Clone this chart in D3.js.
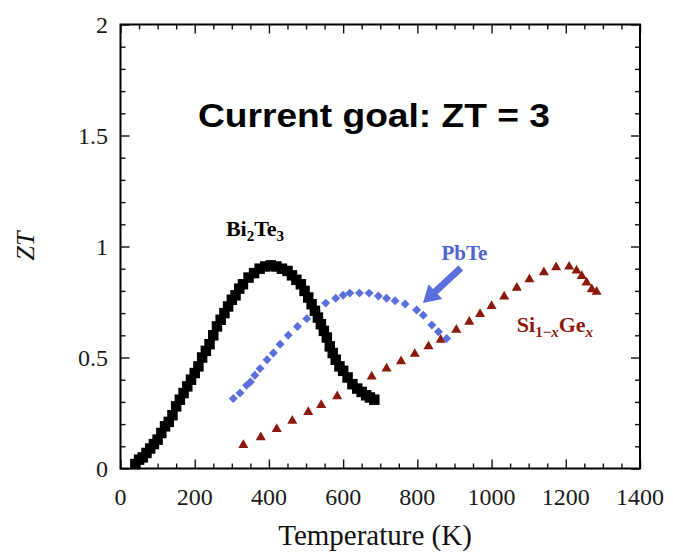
<!DOCTYPE html>
<html>
<head>
<meta charset="utf-8">
<script src="https://cdn.jsdelivr.net/npm/d3@7"></script>
<style>
  html, body { margin: 0; padding: 0; background: #fff; }
  svg { display: block; }
</style>
</head>
<body>
<svg id="chart" width="673" height="554"></svg>
<script>
// ---------- data ----------
const xTicks = [0, 200, 400, 600, 800, 1000, 1200, 1400];
const yTicks = [0, 0.5, 1, 1.5, 2];
const yTickLabels = ["0", "0.5", "1", "1.5", "2"];

const bi2te3T = [40,50,60,70,80,90,100,110,120,130,140,150,160,170,180,190,200,210,220,230,240,250,260,270,280,290,300,310,320,330,345,360,375,390,405,420,435,450,462,474,486,496,506,515,524,532,540,548,556,564,572,580,590,600,612,625,638,650,662,672,684];
const bi2te3ZT = [0.02,0.04,0.05,0.07,0.09,0.11,0.13,0.16,0.19,0.21,0.24,0.28,0.31,0.34,0.37,0.40,0.43,0.46,0.50,0.53,0.56,0.60,0.64,0.67,0.70,0.73,0.76,0.78,0.81,0.83,0.86,0.88,0.90,0.91,0.915,0.91,0.90,0.89,0.87,0.85,0.83,0.80,0.77,0.74,0.71,0.68,0.65,0.62,0.59,0.55,0.52,0.49,0.46,0.44,0.41,0.38,0.36,0.345,0.33,0.32,0.31];

const pbteT = [304,322,340,350,362,376,395,412,430,452,477,502,528,553,580,600,618,644,670,695,717,740,767,798,816,839,857,879];
const pbteZT = [0.315,0.34,0.375,0.39,0.42,0.45,0.49,0.52,0.56,0.60,0.64,0.675,0.71,0.745,0.767,0.78,0.79,0.79,0.79,0.777,0.767,0.756,0.741,0.714,0.69,0.646,0.616,0.586];

const sigeT = [331,378,421,463,506,541,584,630,677,717,756,793,830,863,905,940,969,1000,1034,1068,1102,1141,1174,1209,1229,1243,1256,1270,1283];
const sigeZT = [0.105,0.14,0.178,0.215,0.254,0.286,0.325,0.37,0.414,0.45,0.483,0.516,0.55,0.58,0.625,0.661,0.696,0.732,0.774,0.814,0.852,0.884,0.906,0.909,0.891,0.867,0.837,0.807,0.796];

// annotation anchors in data units
const titlePos = [683, 1.538];
const biLabelPos = [284, 1.047];
const pbLabelPos = [865, 0.939];
const siLabelPos = [1068, 0.616];
const arrowFrom = [917, 0.903];
const arrowTo = [815, 0.745];

// ---------- layout ----------
const svg = d3.select("#chart");
const L = 120.5, R = 640, T = 24.5, B = 468.5;
const x = d3.scaleLinear().domain([0, 1400]).range([L, R]);
const y = d3.scaleLinear().domain([0, 2]).range([B, T]);

const serif = "'Liberation Serif', 'Times New Roman', serif";
const sans = "'Liberation Sans', Arial, sans-serif";

const xMinor = d3.range(0, 1401, 50).filter(v => v % 200 !== 0);
const yMinor = d3.range(0, 21, 1).map(v => v / 10).filter(v => Math.round(v * 10) % 5 !== 0);

function tickAxis(axisFn, scale, vals, size) {
  return axisFn(scale).tickValues(vals).tickSize(size).tickFormat("");
}
const g = svg.append("g");
g.append("g").attr("transform", `translate(0,${B})`).call(tickAxis(d3.axisTop, x, xTicks, 9));
g.append("g").attr("transform", `translate(0,${B})`).call(tickAxis(d3.axisTop, x, xMinor, 5));
g.append("g").attr("transform", `translate(0,${T})`).call(tickAxis(d3.axisBottom, x, xTicks, 9));
g.append("g").attr("transform", `translate(0,${T})`).call(tickAxis(d3.axisBottom, x, xMinor, 5));
g.append("g").attr("transform", `translate(${L},0)`).call(tickAxis(d3.axisRight, y, yTicks, 9));
g.append("g").attr("transform", `translate(${L},0)`).call(tickAxis(d3.axisRight, y, yMinor, 5));
g.append("g").attr("transform", `translate(${R},0)`).call(tickAxis(d3.axisLeft, y, yTicks, 9));
g.append("g").attr("transform", `translate(${R},0)`).call(tickAxis(d3.axisLeft, y, yMinor, 5));
g.selectAll(".domain").remove();
g.selectAll(".tick line").attr("stroke", "#111").attr("stroke-width", 1.4);

svg.append("rect").attr("x", L).attr("y", T).attr("width", R - L).attr("height", B - T)
  .attr("fill", "none").attr("stroke", "#000").attr("stroke-width", 2);

svg.append("g").selectAll("text").data(xTicks).join("text")
  .attr("x", d => x(d)).attr("y", 504.5)
  .attr("text-anchor", "middle")
  .attr("font-family", serif).attr("font-size", 24).attr("fill", "#1a1a1a")
  .text(d => d);
svg.append("g").selectAll("text").data(yTicks).join("text")
  .attr("x", 108).attr("y", d => y(d) + 8)
  .attr("text-anchor", "end")
  .attr("font-family", serif).attr("font-size", 24).attr("fill", "#1a1a1a")
  .text((d, i) => yTickLabels[i]);

svg.append("text").attr("x", 375).attr("y", 545)
  .attr("text-anchor", "middle").attr("font-family", serif).attr("font-size", 29).attr("fill", "#111")
  .text("Temperature (K)");
svg.append("text").attr("transform", "translate(34,246) rotate(-90)")
  .attr("text-anchor", "middle").attr("font-family", serif).attr("font-style", "italic")
  .attr("font-size", 26).attr("fill", "#111")
  .text("ZT");

// ---------- marks ----------
const bi = bi2te3T.map((t, i) => [t, bi2te3ZT[i]]);
const pb = pbteT.map((t, i) => [t, pbteZT[i]]);
const si = sigeT.map((t, i) => [t, sigeZT[i]]);

svg.append("g").selectAll("path").data(si).join("path")
  .attr("d", d3.symbol(d3.symbolTriangle, 44)())
  .attr("transform", d => `translate(${x(d[0])},${y(d[1])})`)
  .attr("fill", "#8b1a0c");

svg.append("g").selectAll("path").data(pb).join("path")
  .attr("d", d3.symbol(d3.symbolSquare, 40)())
  .attr("transform", d => `translate(${x(d[0])},${y(d[1])}) rotate(45)`)
  .attr("fill", "#5b6fdc");

svg.append("g").selectAll("path").data(bi).join("path")
  .attr("d", d3.symbol(d3.symbolSquare, 110)())
  .attr("transform", d => `translate(${x(d[0])},${y(d[1])})`)
  .attr("fill", "#000");

// ---------- annotations ----------
svg.append("text").attr("x", x(titlePos[0])).attr("y", y(titlePos[1]))
  .attr("text-anchor", "middle").attr("font-family", sans).attr("font-weight", "bold")
  .attr("font-size", 34).attr("fill", "#000")
  .attr("textLength", 352).attr("lengthAdjust", "spacingAndGlyphs")
  .text("Current goal: ZT = 3");

const biT = svg.append("text").attr("x", x(biLabelPos[0])).attr("y", y(biLabelPos[1]))
  .attr("font-family", serif).attr("font-weight", "bold").attr("font-size", 22).attr("fill", "#000");
biT.append("tspan").text("Bi");
biT.append("tspan").attr("dy", 5).attr("font-size", 15).text("2");
biT.append("tspan").attr("dy", -5).text("Te");
biT.append("tspan").attr("dy", 5).attr("font-size", 15).text("3");

svg.append("text").attr("x", x(pbLabelPos[0])).attr("y", y(pbLabelPos[1]))
  .attr("font-family", serif).attr("font-weight", "bold").attr("font-size", 21).attr("fill", "#4f63d4")
  .text("PbTe");

const siT = svg.append("text").attr("x", x(siLabelPos[0])).attr("y", y(siLabelPos[1]))
  .attr("font-family", serif).attr("font-weight", "bold").attr("font-size", 22).attr("fill", "#8b1a0c");
siT.append("tspan").text("Si");
siT.append("tspan").attr("dy", 5).attr("font-size", 15).text("1−");
siT.append("tspan").attr("font-size", 15).attr("font-style", "italic").text("x");
siT.append("tspan").attr("dy", -5).text("Ge");
siT.append("tspan").attr("dy", 5).attr("font-size", 15).attr("font-style", "italic").text("x");

const ax0 = x(arrowFrom[0]), ay0 = y(arrowFrom[1]), ax1 = x(arrowTo[0]), ay1 = y(arrowTo[1]);
const ang = Math.atan2(ay1 - ay0, ax1 - ax0);
const len = Math.hypot(ax1 - ax0, ay1 - ay0);
const headLen = 17, headW = 10, shaftW = 3.5;
const arrowPts = [
  [0, -shaftW], [len - headLen, -shaftW], [len - headLen, -headW], [len, 0],
  [len - headLen, headW], [len - headLen, shaftW], [0, shaftW]
];
svg.append("path")
  .attr("d", d3.line()(arrowPts) + "Z")
  .attr("transform", `translate(${ax0},${ay0}) rotate(${ang * 180 / Math.PI})`)
  .attr("fill", "#5b6fdc");
</script>
</body>
</html>
